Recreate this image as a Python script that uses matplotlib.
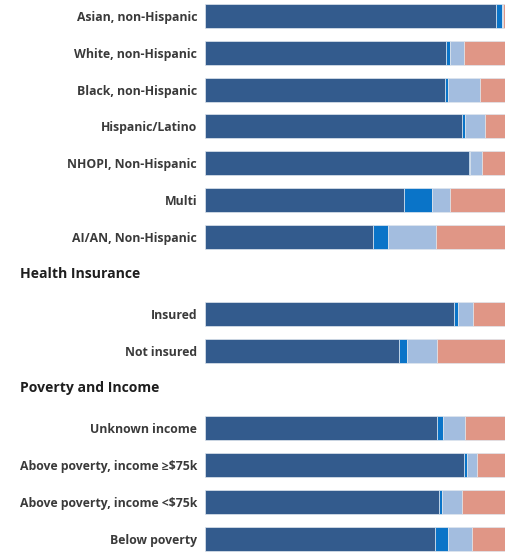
import matplotlib
matplotlib.use("Agg")
import matplotlib.pyplot as plt
from matplotlib.transforms import blended_transform_factory

plt.rcParams['font.family'] = ['Open Sans', 'DejaVu Sans']

# -------------------------------
# data (percent of each group)
# -------------------------------
groups = ['', 'Health Insurance', 'Poverty and Income']

race_labels = ['Asian, non-Hispanic', 'White, non-Hispanic', 'Black, non-Hispanic',
               'Hispanic/Latino', 'NHOPI, Non-Hispanic', 'Multi', 'AI/AN, Non-Hispanic']
insurance_labels = ['Insured', 'Not insured']
income_labels = ['Unknown income', 'Above poverty, income \u2265$75k',
                 'Above poverty, income <$75k', 'Below poverty']

seg_dark = [96.8, 80.2, 79.7, 85.4, 87.6, 66.1, 55.7,
            82.7, 64.3,
            76.9, 86.1, 77.8, 76.4]
seg_bright = [1.8, 1.3, 1.1, 1.0, 0.3, 9.2, 5.2,
              1.2, 2.8,
              2.2, 1.0, 1.0, 4.3]
seg_light = [0.5, 4.5, 10.7, 6.7, 4.1, 6.2, 15.7,
             5.2, 9.8,
             7.2, 3.2, 6.5, 8.1]
seg_salmon = [0.9, 14.0, 8.5, 6.9, 8.0, 18.5, 23.4,
              10.9, 23.1,
              13.7, 9.7, 14.7, 11.2]

colors = ['#335b8d', '#0a74c8', '#a3bddf', '#e09686']

# -------------------------------
# layout: rows with a gap before each titled group
# -------------------------------
label_groups = [race_labels, insurance_labels, income_labels]
gap = 1.1
ypos, labels, header_pos = [], [], []
row = 0.0
for g, labs in enumerate(label_groups):
    if g > 0:
        row += gap
        header_pos.append(row - 1.1)
    for lab in labs:
        ypos.append(row)
        labels.append(lab)
        row += 1

fig = plt.figure(figsize=(5.06, 5.53), dpi=100)
ax = fig.add_axes([0.406, 0.0, 0.594, 1.0])

left = [0.0] * len(labels)
for vals, c in zip([seg_dark, seg_bright, seg_light, seg_salmon], colors):
    ax.barh(ypos, vals, left=left, height=0.65, color=c,
            edgecolor='#dfe6ee', linewidth=0.5)
    left = [l + v for l, v in zip(left, vals)]

ax.set_xlim(0, 100)
ax.set_ylim(14.59, -0.435)
ax.set_yticks(ypos)
ax.set_yticklabels(labels, fontsize=8.8, fontweight='bold', color='#3a3a3a')
ax.tick_params(axis='y', length=0, pad=6)
ax.set_xticks([])
for s in ax.spines.values():
    s.set_visible(False)

trans = blended_transform_factory(fig.transFigure, ax.transData)
for name, y in zip(groups[1:], header_pos):
    ax.text(20 / 506, y, name, transform=trans,
            ha='left', va='center', fontsize=10.1, fontweight='bold', color='#1e1e1e')

fig.savefig('out.png', dpi=100)
